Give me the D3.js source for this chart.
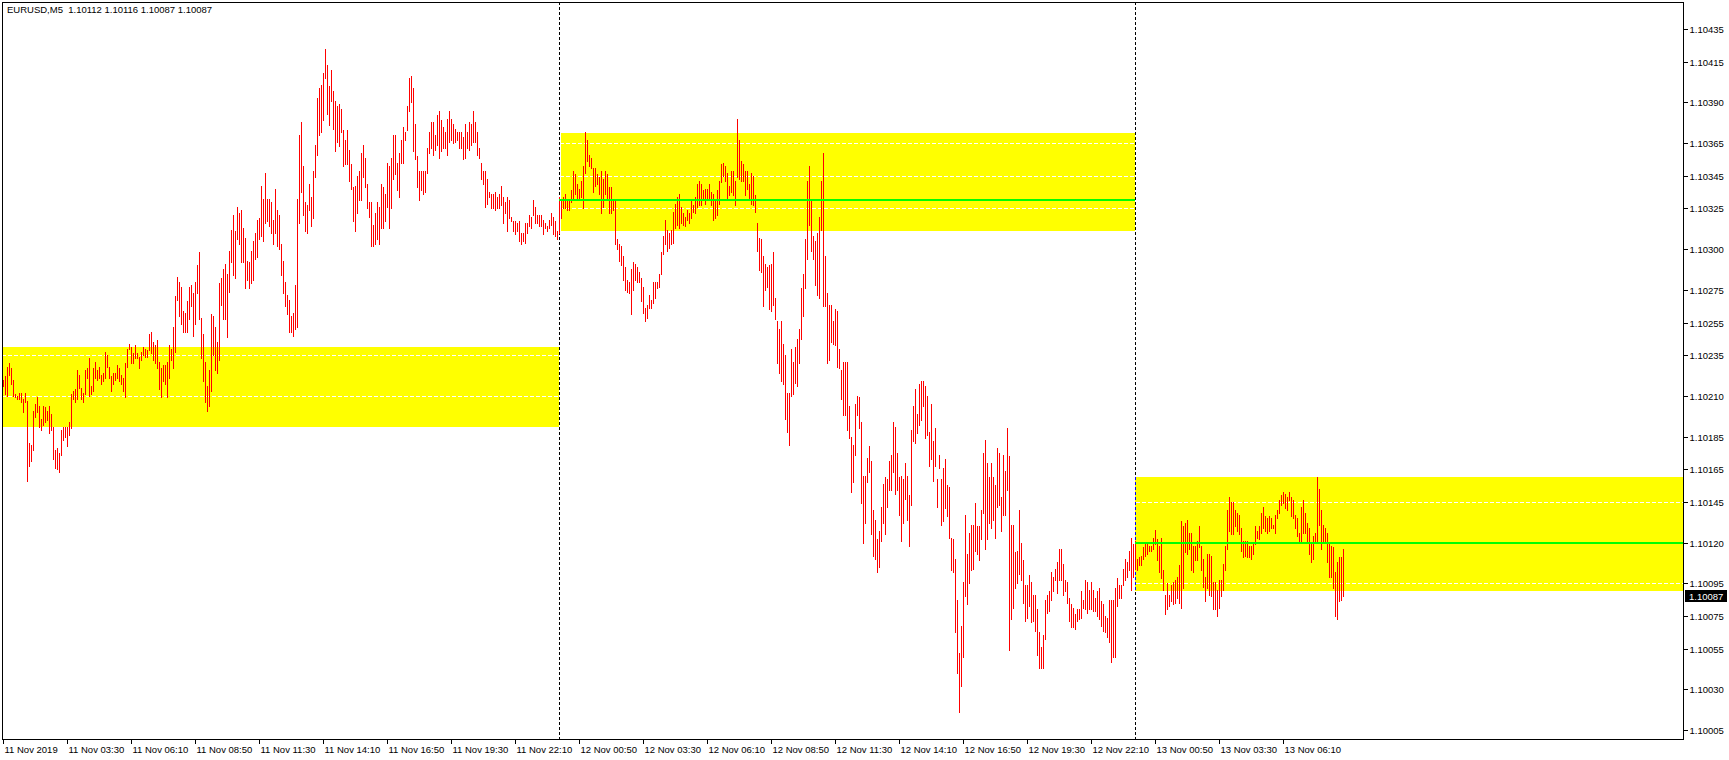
<!DOCTYPE html>
<html><head><meta charset="utf-8">
<script src="https://cdn.jsdelivr.net/npm/d3@7"></script>
<style>
html,body{margin:0;padding:0;background:#fff;overflow:hidden;}
svg{display:block;}
text{font-family:"Liberation Sans",Arial,sans-serif;}
</style></head><body>
<svg id="chart" width="1729" height="760"></svg>
<script>
// ---------------- data ----------------
const symbolTitle = "EURUSD,M5  1.10112 1.10116 1.10087 1.10087";
const firstBarTime = "2019-11-11 00:50";
const barMinutes = 5;
const pointBase = 1.10000;      // bar values below are points above 1.10000
const pointSize = 0.00001;

const highPts = [
220,222,228,230,227,220,211,210,212,212, 208,212,207,181,180,201,205,209,204,196,
204,203,201,204,199,191,177,178,175,189, 191,191,191,194,211,213,214,226,223,215,
212,226,227,233,216,227,231,226,228,223, 224,237,235,228,222,224,224,229,227,223,
221,230,239,242,240,236,241,236,234,237, 240,239,238,248,249,243,241,244,231,227,
229,229,231,241,239,252,271,283,280,277, 262,261,268,277,278,273,280,290,298,258,
248,231,216,226,260,259,252,243,279,282, 288,291,285,299,312,321,311,326,322,324,
313,307,293,292,299,305,310,318,319,339, 331,347,331,331,329,318,337,324,321,303,
293,280,272,269,259,261,278,331,370,378, 351,329,327,340,332,348,364,393,399,401,
408,423,413,400,410,397,391,388,389,386, 373,367,373,361,352,338,339,345,348,359,
364,356,340,329,329,315,322,329,326,340, 338,334,353,351,356,370,370,353,359,367,
375,372,388,405,406,399,377,357,348,348, 348,348,362,372,378,378,370,382,385,379,
375,372,380,385,380,377,374,372,372,372, 369,377,372,378,377,385,378,372,362,353,
348,348,343,335,334,334,335,332,334,339, 332,329,332,330,320,317,317,316,317,310,
310,316,316,321,320,330,326,321,321,321, 318,316,314,318,322,320,317,311,332,331,
332,334,331,330,336,348,346,340,337,342, 351,372,367,358,356,350,350,346,344,348,
343,348,346,338,338,330,331,306,303,302, 296,289,281,280,288,292,291,289,286,282,
277,264,266,272,269,280,280,280,285,298, 308,318,312,310,312,323,328,332,334,326,
322,320,324,322,331,327,332,340,342,340, 336,337,337,340,335,334,331,336,342,352,
353,351,347,339,348,348,342,380,367,354, 352,348,348,340,347,345,333,316,307,306,
296,291,289,290,291,298,270,256,251,256, 242,235,212,212,239,231,240,245,251,276,
285,306,342,351,331,308,305,310,320,342, 359,296,273,266,266,256,263,262,239,226,
231,231,231,204,185,180,205,210,209,194, 161,161,172,179,170,140,134,122,127,142,
156,160,159,170,174,194,191,175,160,161, 159,169,161,149,189,204,214,199,217,219,
219,216,210,188,205,182,190,159,174,159, 166,171,155,154,123,122,110,85,52,69,
96,137,113,126,131,131,144,130,130,140, 175,183,169,160,169,160,155,178,175,148,
174,164,190,173,131,131,114,115,140,120, 109,94,94,100,96,88,88,79,65,56,
63,85,88,90,102,99,104,108,116,116, 107,97,96,86,82,80,76,79,79,90,
85,97,96,91,96,91,86,90,92,84, 82,75,74,85,85,85,92,98,94,94,
104,110,108,115,123,119,121,110,111,112, 117,119,120,118,118,123,128,122,118,123,
103,88,95,88,94,96,97,99,106,133, 130,132,134,126,126,118,118,121,130,118,
110,99,113,113,112,96,96,91,97,97, 107,118,140,148,145,145,140,138,137,129,
121,121,121,118,118,120,130,127,130,138, 142,136,135,136,135,131,137,140,146,149,
151,150,148,151,148,146,137,135,126,142, 146,138,132,129,120,124,126,160,153,140,
131,129,126,119,118,117,102,108,111,111, 116
];
const lowPts = [
216,211,210,223,217,210,209,208,208,206, 200,206,158,167,170,177,197,200,191,189,
192,194,195,187,189,171,166,165,163,174, 183,185,179,186,190,208,206,208,215,208,
206,211,221,210,211,213,221,220,221,217, 219,221,228,221,213,217,220,221,219,217,
213,209,228,239,230,230,233,233,227,232, 235,234,234,238,236,232,230,227,214,209,
219,217,209,221,232,227,237,269,259,254, 249,249,249,257,265,247,254,273,257,233,
219,206,201,204,213,235,226,224,232,266, 257,257,246,274,292,284,282,306,303,292,
292,276,281,276,279,281,294,295,306,308, 305,316,317,314,310,303,310,302,300,284,
273,265,260,249,249,247,251,252,316,335, 321,311,310,324,314,319,344,358,370,372,
379,405,383,376,391,374,360,366,363,372, 351,352,352,342,337,317,311,322,330,330,
344,338,325,320,302,302,303,306,303,313, 313,317,326,313,325,343,346,336,332,353,
353,367,373,385,390,360,355,338,330,336, 334,335,347,359,362,358,361,364,356,360,
362,362,358,366,367,365,366,367,362,362, 355,356,362,361,364,366,366,358,356,343,
340,326,328,332,325,325,324,325,325,327, 316,322,311,319,317,311,309,311,305,303,
305,304,310,314,313,321,316,316,314,314, 309,313,311,313,315,309,308,306,310,319,
325,325,324,324,329,331,334,331,331,332, 325,347,354,351,350,335,339,340,334,322,
326,334,330,322,322,324,303,300,293,290, 281,275,274,273,260,275,281,280,280,268,
261,256,258,264,264,267,270,276,277,285, 297,303,299,301,303,304,313,315,313,316,
315,314,318,316,319,323,322,326,327,327, 330,328,330,331,327,318,319,321,328,341,
345,342,331,333,335,333,327,344,343,342, 342,333,337,331,328,327,323,299,287,286,
265,275,277,263,262,266,257,230,224,219, 217,196,188,180,210,211,218,216,230,245,
259,276,294,315,299,294,278,272,270,312, 265,265,230,232,243,242,241,228,227,208,
198,198,189,184,151,157,174,198,190,144, 120,132,157,163,125,112,110,102,105,121,
132,125,142,152,152,163,150,152,137,121, 132,147,134,118,143,182,181,187,192,195,
204,184,186,167,171,158,167,142,166,131, 133,141,136,123,103,102,65,40,16,32,
50,87,82,95,103,104,115,113,109,122, 138,116,122,132,129,134,123,142,143,127,
137,137,152,54,73,80,92,95,101,97, 83,72,74,81,71,72,66,51,43,43,
43,61,77,78,85,90,97,89,97,97, 88,90,83,72,68,68,67,72,73,74,
80,79,77,79,79,78,78,75,73,69, 66,65,62,59,47,50,50,81,86,86,
94,97,99,103,91,99,104,103,106,106, 110,112,113,115,115,116,119,109,102,98,
91,76,79,81,84,82,83,86,83,80, 92,114,113,116,103,102,109,109,117,103,
93,84,92,88,87,79,79,75,80,87, 91,103,116,127,125,125,130,127,125,115,
111,112,111,111,110,113,119,123,122,126, 129,127,126,127,129,129,126,135,138,143,
144,141,140,146,136,135,129,124,120,120, 126,126,121,113,108,110,120,120,131,116,
120,120,108,99,99,92,75,73,84,85, 87
];

const yTickValues = [1.10435,1.10415,1.10390,1.10365,1.10345,1.10325,1.10300,1.10275,1.10255,1.10235,
  1.10210,1.10185,1.10165,1.10145,1.10120,1.10095,1.10075,1.10055,1.10030,1.10005];
const xTickTimes = ["2019-11-11 00:50","2019-11-11 03:30","2019-11-11 06:10","2019-11-11 08:50","2019-11-11 11:30",
  "2019-11-11 14:10","2019-11-11 16:50","2019-11-11 19:30","2019-11-11 22:10","2019-11-12 00:50","2019-11-12 03:30",
  "2019-11-12 06:10","2019-11-12 08:50","2019-11-12 11:30","2019-11-12 14:10","2019-11-12 16:50","2019-11-12 19:30",
  "2019-11-12 22:10","2019-11-13 00:50","2019-11-13 03:30","2019-11-13 06:10"];
const xTickLabels = ["11 Nov 2019","11 Nov 03:30","11 Nov 06:10","11 Nov 08:50","11 Nov 11:30","11 Nov 14:10",
  "11 Nov 16:50","11 Nov 19:30","11 Nov 22:10","12 Nov 00:50","12 Nov 03:30","12 Nov 06:10","12 Nov 08:50",
  "12 Nov 11:30","12 Nov 14:10","12 Nov 16:50","12 Nov 19:30","12 Nov 22:10","13 Nov 00:50","13 Nov 03:30","13 Nov 06:10"];
const daySeparators = ["2019-11-12 00:00","2019-11-13 00:00"];

// yellow zones
const zoneStart = ["2019-11-10 22:00","2019-11-12 00:05","2019-11-13 00:00"];
const zoneEnd   = ["2019-11-12 00:00","2019-11-13 00:00","2019-11-14 00:00"];
const zoneLow   = [1.10191, 1.10311, 1.10090];
const zoneHigh  = [1.10240, 1.10371, 1.10160];
// green day-open levels
const openStart = ["2019-11-12 00:00","2019-11-13 00:00"];
const openEnd   = ["2019-11-13 00:00","2019-11-14 00:00"];
const openLevel = [1.10330, 1.10120];

const lastPrice = 1.10087;

// ---------------- drawing ----------------
const parse = d3.timeParse("%Y-%m-%d %H:%M");
const t0 = parse(firstBarTime);
const bars = highPts.map((h, i) => ({
  t: d3.timeMinute.offset(t0, i * barMinutes),
  high: pointBase + h * pointSize,
  low: pointBase + lowPts[i] * pointSize
}));

const plot = {left: 2, top: 2, right: 1683, bottom: 739};

const x = d3.scaleTime()
  .domain([t0, bars[bars.length - 1].t])
  .range([3, 3 + 2 * (bars.length - 1)]);
const y = d3.scaleLinear().domain([1.10005, 1.10435]).range([730, 29.1]);

const svg = d3.select("#chart");
svg.append("rect").attr("width", 1729).attr("height", 760).attr("fill", "#fff");

svg.append("clipPath").attr("id", "clip")
  .append("rect").attr("x", plot.left + 1).attr("y", plot.top + 1)
  .attr("width", plot.right - plot.left - 1).attr("height", plot.bottom - plot.top - 1);

const g = svg.append("g").attr("clip-path", "url(#clip)");

const zones = zoneStart.map((s, i) => ({
  x0: Math.round(x(parse(s))), x1: Math.round(x(parse(zoneEnd[i]))),
  y0: Math.round(y(zoneHigh[i])), y1: Math.round(y(zoneLow[i]))
}));

g.selectAll("rect.zone").data(zones).join("rect").attr("class", "zone")
  .attr("x", d => d.x0).attr("y", d => d.y0)
  .attr("width", d => d.x1 - d.x0).attr("height", d => d.y1 - d.y0)
  .attr("fill", "#ffff00");

// grid (white dotted, only visible on the yellow zones)
g.selectAll("line.grid").data(yTickValues).join("line").attr("class", "grid")
  .attr("x1", plot.left).attr("x2", plot.right)
  .attr("y1", d => Math.round(y(d)) + 0.5).attr("y2", d => Math.round(y(d)) + 0.5)
  .attr("stroke", "#fff").attr("stroke-width", 1).attr("stroke-dasharray", "4,2");

// day separators
const seps = daySeparators.map(s => Math.round(x(parse(s))) + 0.5);
g.selectAll("line.sep").data(seps).join("line").attr("class", "sep")
  .attr("x1", d => d).attr("x2", d => d)
  .attr("y1", plot.top).attr("y2", plot.bottom)
  .attr("stroke", "#000").attr("stroke-width", 1).attr("stroke-dasharray", "3,2");
// separator segments over yellow appear inverted (blue)
const sepOver = [];
seps.forEach(sx => zones.forEach(z => {
  if (sx - 0.5 >= z.x0 && sx - 0.5 < z.x1) sepOver.push({x: sx, y0: z.y0, y1: z.y1});
}));
g.selectAll("line.sepb").data(sepOver).join("line").attr("class", "sepb")
  .attr("x1", d => d.x).attr("x2", d => d.x)
  .attr("y1", d => d.y0).attr("y2", d => d.y1)
  .attr("stroke", "#0000ff").attr("stroke-width", 1).attr("stroke-dasharray", "3,2")
  .attr("stroke-dashoffset", d => (d.y0 - plot.top) % 5);

// price bars
g.selectAll("line.bar").data(bars).join("line").attr("class", "bar")
  .attr("x1", d => Math.round(x(d.t)) + 0.5).attr("x2", d => Math.round(x(d.t)) + 0.5)
  .attr("y1", d => Math.round(y(d.high))).attr("y2", d => Math.round(y(d.low)) + 1)
  .attr("stroke", "#ff0000").attr("stroke-width", 1).attr("shape-rendering", "crispEdges");

// day open lines
const opens = openStart.map((s, i) => ({
  x0: Math.round(x(parse(s))), x1: Math.round(x(parse(openEnd[i]))), y: Math.round(y(openLevel[i]))
}));
g.selectAll("line.open").data(opens).join("line").attr("class", "open")
  .attr("x1", d => d.x0).attr("x2", d => d.x1)
  .attr("y1", d => d.y).attr("y2", d => d.y)
  .attr("stroke", "#00ff00").attr("stroke-width", 2).attr("shape-rendering", "crispEdges");

// frame
svg.append("rect").attr("x", plot.left + 0.5).attr("y", plot.top + 0.5)
  .attr("width", plot.right - plot.left).attr("height", plot.bottom - plot.top)
  .attr("fill", "none").attr("stroke", "#000").attr("stroke-width", 1);

// right price axis
const yAxis = d3.axisRight(y).tickValues(yTickValues).tickFormat(d3.format(".5f"))
  .tickSize(4).tickPadding(2);
const ya = svg.append("g").attr("transform", `translate(${plot.right + 0.5},0)`).call(yAxis);
ya.select(".domain").remove();
ya.selectAll(".tick line").attr("stroke", "#000").attr("shape-rendering", "crispEdges");
ya.selectAll(".tick text").attr("fill", "#000").style("font-size", "9.5px")
  .style("font-family", "'Liberation Sans', Arial, sans-serif");
ya.selectAll(".tick").attr("transform", d => `translate(0,${Math.round(y(d)) + 0.5})`);

// current price label
const py = Math.round(y(lastPrice));
svg.append("rect").attr("x", 1685).attr("y", py - 6).attr("width", 42).attr("height", 12).attr("fill", "#000");
svg.append("text").attr("x", 1689).attr("y", py + 3.5).attr("fill", "#fff")
  .style("font-size", "9.5px").text(d3.format(".5f")(lastPrice));

// time axis
const xTicks = xTickTimes.map(parse);
const xAxis = d3.axisBottom(x).tickValues(xTicks).tickFormat((d, i) => xTickLabels[i])
  .tickSize(4).tickPadding(3);
const xa = svg.append("g").attr("transform", `translate(0,${plot.bottom + 0.5})`).call(xAxis);
xa.select(".domain").remove();
xa.selectAll(".tick").attr("transform", d => `translate(${Math.round(x(d)) + 0.5},0)`);
xa.selectAll(".tick line").attr("stroke", "#000").attr("shape-rendering", "crispEdges");
xa.selectAll(".tick text").attr("fill", "#000").attr("text-anchor", "start").attr("x", 1)
  .style("font-size", "9.5px").style("font-family", "'Liberation Sans', Arial, sans-serif");

// title
svg.append("text").attr("x", 7).attr("y", 13).attr("fill", "#000")
  .style("font-size", "9.5px").style("white-space", "pre").text(symbolTitle);
</script>
</body></html>
